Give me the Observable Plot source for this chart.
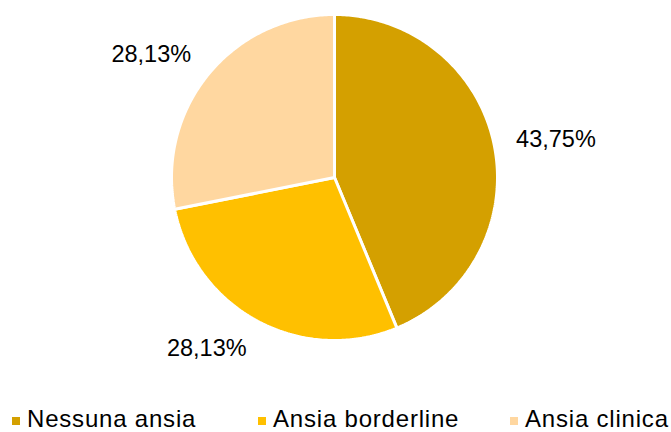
<!DOCTYPE html>
<html>
<head>
<meta charset="utf-8">
<script src="https://cdn.jsdelivr.net/npm/d3@7"></script>
<script src="https://cdn.jsdelivr.net/npm/@observablehq/plot@0.6"></script>
<style>
  html, body { margin: 0; padding: 0; background: #fff; }
  #chart { width: 671px; height: 432px; overflow: hidden; font-family: "Liberation Sans", Arial, sans-serif; }
  #legend { position: relative; height: 26px; line-height: 26px; font-size: 24px; letter-spacing: 0.8px; color: #000; white-space: nowrap; }
  .item { position: absolute; top: 0; display: flex; align-items: center; }
  .sw { width: 8px; height: 8px; margin-right: 7px; position: relative; top: 2px; }
</style>
</head>
<body>
<div id="chart"></div>
<script>
const categories = ["Nessuna ansia", "Ansia borderline", "Ansia clinica"];
const values = [43.75, 28.13, 28.13];
const labels = ["43,75%", "28,13%", "28,13%"];
const colors = ["#D4A000", "#FFC000", "#FFD7A0"];

const W = 671, H = 406;
const cx = 334, cy = 177, R = 163; // layout of the pie in pixels
const legendLeft = [12, 258, 510];

const pie = d3.pie().sort(null).value(d => d.value)(categories.map((c, i) => ({cat: c, value: values[i], label: labels[i]})));

// polygon outline of each wedge in data units (unit circle)
const poly = [];
pie.forEach(p => {
  const n = Math.max(2, Math.ceil((p.endAngle - p.startAngle) * 80));
  poly.push({cat: p.data.cat, x: 0, y: 0});
  for (let k = 0; k <= n; k++) {
    const a = p.startAngle + (p.endAngle - p.startAngle) * k / n;
    poly.push({cat: p.data.cat, x: Math.sin(a), y: Math.cos(a)});
  }
  poly.push({cat: p.data.cat, x: 0, y: 0});
});

// label centers: outside end, shifted away from the pie
const lab = pie.map(p => {
  const m = (p.startAngle + p.endAngle) / 2;
  const dx = Math.sin(m), dy = Math.cos(m);
  const r = (R + 21) / R;
  return {
    label: p.data.label,
    x: dx * r + Math.sign(dx) * 41 / R,
    y: dy * r + dy * 10 / R
  };
});

const plot = Plot.plot({
  width: W,
  height: H,
  marginLeft: cx - R,
  marginRight: W - (cx + R),
  marginTop: cy - R,
  marginBottom: H - (cy + R),
  x: {domain: [-1, 1], axis: null},
  y: {domain: [-1, 1], axis: null},
  color: {domain: categories, range: colors},
  style: {fontFamily: "Liberation Sans, Arial, sans-serif", background: "#fff", overflow: "visible"},
  marks: [
    Plot.line(poly, {x: "x", y: "y", z: "cat", fill: "cat", stroke: "#fff", strokeWidth: 3, strokeLinejoin: "miter", curve: "linear"}),
    Plot.text(lab, {x: "x", y: "y", text: "label", fontSize: 23.5, fill: "#000", textAnchor: "middle", lineAnchor: "middle"})
  ]
});

const chart = document.getElementById("chart");
chart.appendChild(plot);
const legend = document.createElement("div");
legend.id = "legend";
categories.forEach((c, i) => {
  const it = document.createElement("div");
  it.className = "item";
  it.style.left = legendLeft[i] + "px";
  const sw = document.createElement("span");
  sw.className = "sw";
  sw.style.background = colors[i];
  const t = document.createElement("span");
  t.textContent = c;
  it.appendChild(sw);
  it.appendChild(t);
  legend.appendChild(it);
});
chart.appendChild(legend);
</script>
</body>
</html>
